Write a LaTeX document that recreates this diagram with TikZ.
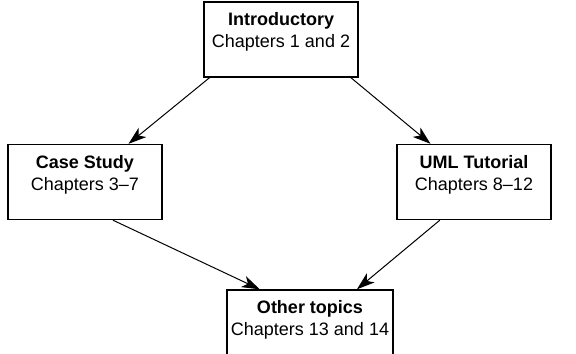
\documentclass[tikz,border=0pt]{standalone}
\usepackage{fontspec}
\setmainfont{Liberation Sans}
\usepackage{tikz}
\usetikzlibrary{calc, arrows.meta, positioning}

\begin{document}
\begin{tikzpicture}[x=0.5pt, y=-0.5pt,
        chapbox/.style={draw, line width=0.7pt, minimum width=77pt, minimum height=37.5pt,
            align=center, inner sep=2pt, font=\fontsize{9}{11}\selectfont},
        flow/.style={line width=0.5pt, -{Stealth[length=9pt, width=6pt, inset=2.5pt]}}]
            \useasboundingbox (0,0) rectangle (576,353);
            % the four parts of the book
            \node[chapbox] (intro) at (281,39.5) {\textbf{Introductory}\\Chapters 1 and 2\\[-5pt]\strut};
            \node[chapbox] (case) at (85,182) {\textbf{Case Study}\\Chapters 3--7\\[-5pt]\strut};
            \node[chapbox] (uml) at (474,182) {\textbf{UML Tutorial}\\Chapters 8--12\\[-5pt]\strut};
            \node[chapbox] (other) at (310,327.5) {\textbf{Other topics}\\Chapters 13 and 14\\[-5pt]\strut};
            % reading order
            \draw[flow] ($(intro.south west)!0.04!(intro.south east)$) -- ($(case.north west)!0.78!(case.north east)$);
            \draw[flow] ($(intro.south west)!0.95!(intro.south east)$) -- ($(uml.north west)!0.22!(uml.north east)$);
            \draw[flow] ($(case.south west)!0.68!(case.south east)$) -- ($(other.north west)!0.2!(other.north east)$);
            \draw[flow] ($(uml.south west)!0.28!(uml.south east)$) -- ($(other.north west)!0.78!(other.north east)$);
        \end{tikzpicture}
\end{document}
